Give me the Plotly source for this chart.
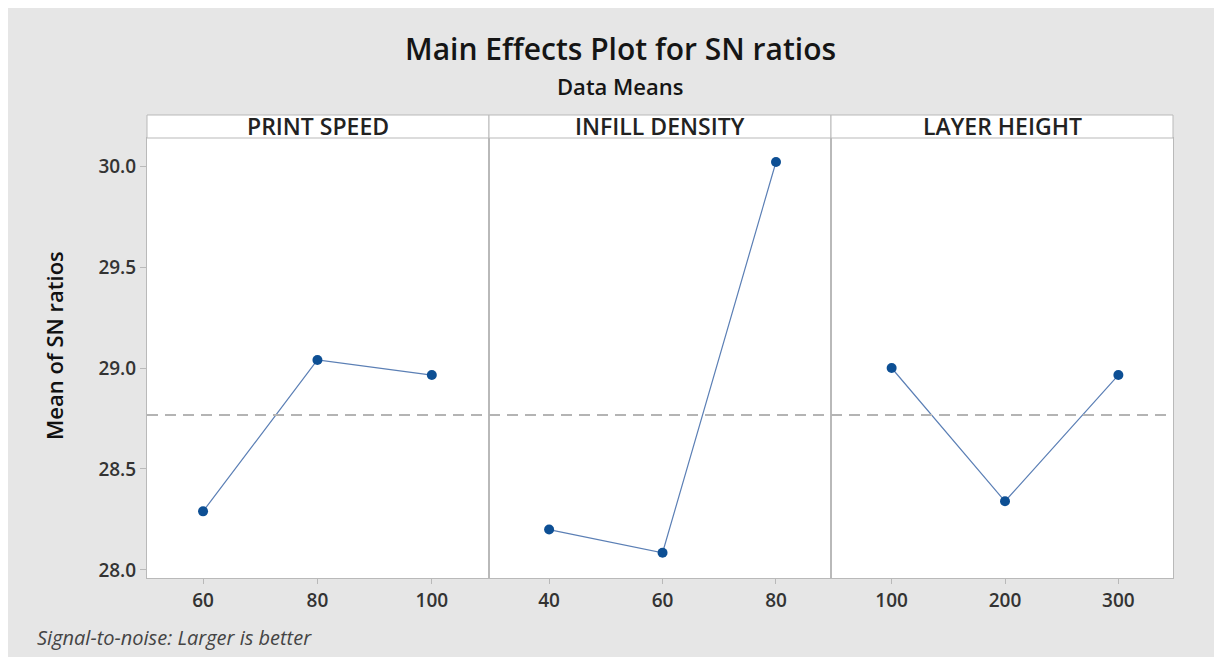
import plotly.graph_objects as go
from plotly.subplots import make_subplots

factors = ["PRINT SPEED", "INFILL DENSITY", "LAYER HEIGHT"]
print_speed_levels = [60, 80, 100]
print_speed_means = [28.29, 29.04, 28.965]
infill_levels = [40, 60, 80]
infill_means = [28.20, 28.085, 30.02]
layer_levels = [100, 200, 300]
layer_means = [29.00, 28.34, 28.965]
y_ticks = [28.0, 28.5, 29.0, 29.5, 30.0]

levels = [print_speed_levels, infill_levels, layer_levels]
means = [print_speed_means, infill_means, layer_means]
all_vals = print_speed_means + infill_means + layer_means
grand_mean = sum(all_vals) / len(all_vals)

OFF = 8  # page body margin
W, H = 1222 - OFF, 657 - OFF
L, R, T, B = 147 - OFF, 49, 138 - OFF, 79
pw = W - L - R
ph = H - T - B

def px_x(x):  # page pixel -> paper
    return (x - OFF - L) / pw

def px_y(y):
    return (H - B - (y - OFF)) / ph

fig = make_subplots(rows=1, cols=3, shared_yaxes=True, horizontal_spacing=0)

tickfont = dict(family="Open Sans", size=19, color="#333333", weight=600)
x_ranges = [[50.2, 110], [29.4, 89.7], [46.5, 348.2]]
strip_h = 23
for i in range(3):
    fig.add_trace(go.Scatter(
        x=levels[i], y=means[i], mode="lines+markers",
        line=dict(color="#5b7fb5", width=1.2),
        marker=dict(color="#0d4f94", size=10),
        showlegend=False), row=1, col=i + 1)
    fig.add_trace(go.Scatter(
        x=x_ranges[i], y=[grand_mean, grand_mean], mode="lines",
        line=dict(color="#b4b4b4", width=2.2, dash="11px,7px"),
        showlegend=False, hoverinfo="skip"), row=1, col=i + 1)
    fig.update_xaxes(range=x_ranges[i], tickvals=levels[i],
                     ticktext=[str(v) for v in levels[i]],
                     showgrid=False, zeroline=False, showline=True,
                     linecolor="#b9b9b9", linewidth=1, mirror=True,
                     ticks="outside", ticklen=5, tickcolor="#b9b9b9",
                     tickfont=tickfont, row=1, col=i + 1)
    xd = "x domain" if i == 0 else f"x{i+1} domain"
    fig.add_shape(type="rect", xref=xd, yref="paper", x0=0, x1=1,
                  y0=1, y1=1 + strip_h / ph, fillcolor="white",
                  line=dict(color="#b9b9b9", width=1))
    fig.add_annotation(text=factors[i], xref=xd, yref="paper", x=0.5,
                       y=1 + (strip_h / 2 + 1) / ph, showarrow=False, yanchor="middle",
                       font=dict(family="Open Sans", size=23, color="#222222", weight=600))

fig.update_yaxes(range=[27.96, 30.139], tickvals=y_ticks,
                 ticktext=[f"{v:.1f}" for v in y_ticks],
                 showgrid=False, zeroline=False, showline=True,
                 linecolor="#b9b9b9", linewidth=1, mirror=True,
                 ticks="", tickfont=tickfont)
fig.update_yaxes(ticks="outside", ticklen=6, tickcolor="#b9b9b9", row=1, col=1)

fig.add_annotation(text="Main Effects Plot for SN ratios", xref="paper", yref="paper",
                   x=px_x(620), y=px_y(49), showarrow=False, yanchor="middle",
                   font=dict(family="Open Sans", size=30, color="#151515", weight=600))
fig.add_annotation(text="Data Means", xref="paper", yref="paper",
                   x=px_x(620), y=px_y(86), showarrow=False, yanchor="middle",
                   font=dict(family="Open Sans", size=22, color="#151515", weight=600))
fig.add_annotation(text="Mean of SN ratios", xref="paper", yref="paper",
                   x=px_x(54), y=px_y(346), showarrow=False, textangle=-90,
                   xanchor="center", yanchor="middle",
                   font=dict(family="Open Sans", size=22, color="#111111", weight=600))
fig.add_annotation(text="<i>Signal-to-noise: Larger is better</i>", xref="paper", yref="paper",
                   x=px_x(35), y=px_y(637), showarrow=False, xanchor="left", yanchor="middle",
                   font=dict(family="Open Sans", size=20, color="#444444"))

fig.update_layout(width=W, height=H, margin=dict(l=L, r=R, t=T, b=B),
                  paper_bgcolor="#e6e6e6", plot_bgcolor="white")

fig.write_html("out.html")
